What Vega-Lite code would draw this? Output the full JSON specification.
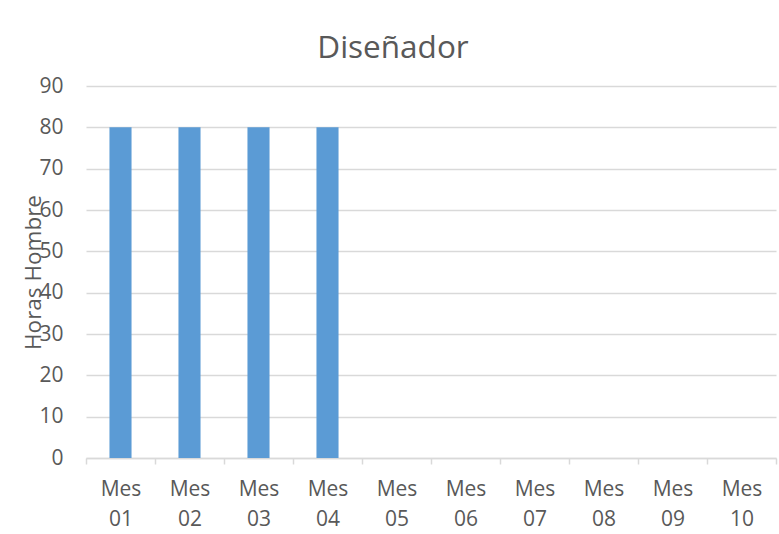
{
  "$schema": "https://vega.github.io/schema/vega-lite/v6.json",
  "width": 690,
  "height": 372,
  "autosize": "none",
  "padding": {"left": 86, "top": 86, "right": 3, "bottom": 76},
  "background": "white",
  "title": {
    "text": "Diseñador",
    "fontSize": 31.5,
    "font": "Open Sans",
    "fontWeight": "normal",
    "color": "#595959",
    "anchor": "middle",
    "dx": -38,
    "offset": 11
  },
  "data": {
    "values": [
      {"mes": "Mes 01", "horas": 80},
      {"mes": "Mes 02", "horas": 80},
      {"mes": "Mes 03", "horas": 80},
      {"mes": "Mes 04", "horas": 80},
      {"mes": "Mes 05", "horas": 0},
      {"mes": "Mes 06", "horas": 0},
      {"mes": "Mes 07", "horas": 0},
      {"mes": "Mes 08", "horas": 0},
      {"mes": "Mes 09", "horas": 0},
      {"mes": "Mes 10", "horas": 0}
    ]
  },
  "mark": {"type": "bar", "color": "#5B9BD5", "width": {"band": 0.32}},
  "encoding": {
    "x": {
      "field": "mes",
      "type": "nominal",
      "sort": null,
      "scale": {"paddingInner": 0, "paddingOuter": 0},
      "axis": {
        "title": null,
        "labelAngle": 0,
        "labelExpr": "split(datum.label, ' ')",
        "labelLineHeight": 30,
        "labelFontSize": 21,
        "labelFont": "Open Sans",
        "labelColor": "#595959",
        "labelPadding": 14,
        "domainColor": "#d9d9d9",
        "domainWidth": 1.5,
        "tickColor": "#d9d9d9",
        "tickWidth": 1.5,
        "tickSize": 6,
        "tickBand": "extent",
        "grid": false
      }
    },
    "y": {
      "field": "horas",
      "type": "quantitative",
      "scale": {"domain": [0, 90]},
      "axis": {
        "title": "Horas Hombre",
        "titleFont": "Open Sans",
        "titleFontSize": 22.5,
        "titleFontWeight": "normal",
        "titleColor": "#595959",
        "titleX": -46,
        "titleY": 186,
        "titleBaseline": "alphabetic",
        "titleAngle": -90,
        "values": [0, 10, 20, 30, 40, 50, 60, 70, 80, 90],
        "labelFontSize": 21,
        "labelFont": "Open Sans",
        "labelColor": "#595959",
        "labelPadding": 23,
        "domain": false,
        "ticks": false,
        "gridColor": "#d9d9d9",
        "gridWidth": 1.5
      }
    }
  },
  "config": {"view": {"stroke": null}}
}
